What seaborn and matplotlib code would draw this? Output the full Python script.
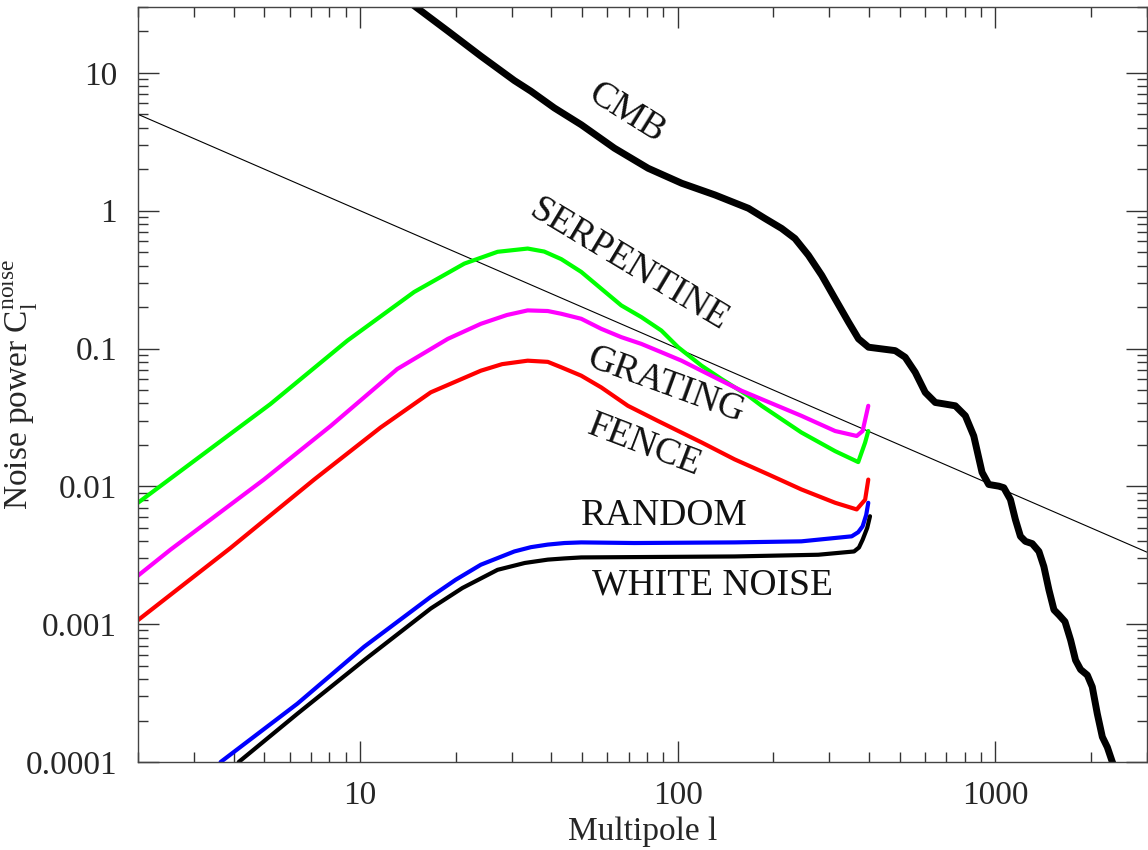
import numpy as np
import pandas as pd
import matplotlib
matplotlib.use("Agg")
import matplotlib.pyplot as plt
import seaborn as sns
from matplotlib.ticker import FixedLocator, FixedFormatter, LogLocator, NullFormatter

# multipole values / noise power
serp_l = [2, 5.22, 9.12, 14.8, 21.3, 27.1, 33.7, 38, 43, 49.7, 57.45, 66.44, 76.82, 88.82, 100.3, 118.8, 137.3, 166.8, 183.7, 245, 313, 370, 389, 398]
serp_c = [0.0076, 0.0395, 0.114, 0.257, 0.413, 0.503, 0.531, 0.505, 0.445, 0.3594, 0.2716, 0.2053, 0.169, 0.135, 0.1022, 0.0751, 0.0601, 0.0454, 0.0384, 0.0246, 0.018, 0.015, 0.0208, 0.0252]

grat_l = [2, 2.53, 4.98, 8.08, 13.1, 18.9, 24, 29, 33.7, 39, 42.96, 49.7, 57.45, 66.44, 76.82, 88.82, 102.7, 118.8, 137.3, 158.8, 183.7, 245, 313, 366, 382, 398]
grat_c = [0.00225, 0.00347, 0.0112, 0.0274, 0.071, 0.1175, 0.151, 0.175, 0.189, 0.187, 0.1787, 0.1643, 0.1389, 0.1209, 0.108, 0.094, 0.0817, 0.069, 0.0584, 0.0494, 0.0429, 0.0325, 0.0252, 0.0232, 0.0252, 0.0384]

fence_l = [2, 3.91, 7.17, 11.6, 16.7, 24, 28, 33.7, 39, 42.96, 49.7, 57.45, 69.7, 86.7, 119, 151, 193, 245, 313, 366, 389, 398]
fence_c = [0.00107, 0.00357, 0.0112, 0.0267, 0.0481, 0.069, 0.077, 0.0816, 0.08, 0.0731, 0.0635, 0.0522, 0.0384, 0.0298, 0.0208, 0.0157, 0.0122, 0.0095, 0.0076, 0.0068, 0.008, 0.0112]

rand_l = [3.64, 6.35, 10.3, 16.7, 20, 24, 30.6, 34.5, 39, 44, 49.7, 73, 151, 245, 353, 370, 382, 392, 398]
rand_c = [0.0001, 0.000265, 0.000686, 0.00158, 0.0021, 0.0027, 0.00337, 0.00362, 0.00378, 0.00388, 0.00392, 0.00388, 0.00392, 0.00399, 0.00434, 0.00465, 0.00513, 0.0062, 0.0076]

white_l = [4.15, 6.35, 10.3, 16.7, 21, 27.1, 33, 39, 44, 49.7, 151, 277, 359, 372, 382, 395, 403]
white_c = [0.0001, 0.000224, 0.000548, 0.0013, 0.00183, 0.00248, 0.00278, 0.00294, 0.003, 0.00305, 0.0031, 0.00319, 0.00337, 0.0036, 0.0041, 0.005, 0.00607]

cmb_l = [14.6, 18.9, 24, 30.6, 34.5, 40.9, 49.7, 63.2, 80.7, 103, 131, 167, 188, 212.4, 233.9, 257.8, 284, 312.8,
         344.8, 370.8, 398.7, 439.2, 483.7, 520, 559.3, 601.5, 646.9, 695.6, 747.9, 804.3, 854.9, 907.8, 952.6,
         1025, 1063, 1115, 1156, 1199, 1243, 1306, 1371, 1421, 1474, 1529, 1585, 1656, 1725, 1788, 1854, 1947,
         2018, 2093, 2171, 2251, 2334, 2380]
cmb_c = [31.4, 20.1, 13.23, 8.79, 7.36, 5.56, 4.2, 2.84, 2.03, 1.58, 1.3, 1.04, 0.879, 0.743, 0.628, 0.475, 0.3396, 0.2298,
         0.1555, 0.1175, 0.1022, 0.0993, 0.0965, 0.0864, 0.0672, 0.048, 0.0406, 0.0395, 0.0384, 0.0325, 0.0232, 0.01263, 0.01032,
         0.01003, 0.00977, 0.00803, 0.00574, 0.00434, 0.00399, 0.00384, 0.00337, 0.00262, 0.001775, 0.00127, 0.001167, 0.001043, 0.000767, 0.000548, 0.000469, 0.000427,
         0.000351, 0.000224, 0.000152, 0.000128, 0.0001, 0.00009]

ref_l = [2, 3000]
ref_c = [5.0, 0.00333]

x_ticks = [10, 100, 1000]
x_labels = ["10", "100", "1000"]
y_ticks = [0.0001, 0.001, 0.01, 0.1, 1, 10]
y_labels = ["0.0001", "0.001", "0.01", "0.1", "1", "10"]

sns.set_style("ticks")
plt.rcParams["font.family"] = ["Liberation Serif", "DejaVu Serif"]
plt.rcParams["mathtext.fontset"] = "custom"
plt.rcParams["mathtext.rm"] = "Liberation Serif"

fig = plt.figure(figsize=(11.48, 8.5), dpi=100)
ax = fig.add_axes([0.1202, 0.1035, 0.8789, 0.8882])
ax.set_xscale("log")
ax.set_yscale("log")

sns.lineplot(x=ref_l, y=ref_c, color="black", linewidth=0.8, ax=ax, sort=False, estimator=None)
sns.lineplot(x=serp_l, y=serp_c, color="#00ff00", linewidth=3, ax=ax, sort=False, estimator=None)
sns.lineplot(x=grat_l, y=grat_c, color="#ff00ff", linewidth=3, ax=ax, sort=False, estimator=None)
sns.lineplot(x=fence_l, y=fence_c, color="#ff0000", linewidth=3, ax=ax, sort=False, estimator=None)
sns.lineplot(x=rand_l, y=rand_c, color="#0000ff", linewidth=3, ax=ax, sort=False, estimator=None)
sns.lineplot(x=white_l, y=white_c, color="black", linewidth=3, ax=ax, sort=False, estimator=None)
sns.lineplot(x=cmb_l, y=cmb_c, color="black", linewidth=5, ax=ax, sort=False, estimator=None)
for ln in ax.lines:
    ln.set_solid_joinstyle("round")

ax.set_xlim(2, 3000)
ax.set_ylim(0.0001, 30)

ax.xaxis.set_major_locator(FixedLocator(x_ticks))
ax.xaxis.set_major_formatter(FixedFormatter(x_labels))
ax.yaxis.set_major_locator(FixedLocator(y_ticks))
ax.yaxis.set_major_formatter(FixedFormatter(y_labels))
ax.xaxis.set_minor_locator(LogLocator(base=10, subs=np.arange(2, 10), numticks=20))
ax.yaxis.set_minor_locator(LogLocator(base=10, subs=np.arange(2, 10), numticks=20))
ax.xaxis.set_minor_formatter(NullFormatter())
ax.yaxis.set_minor_formatter(NullFormatter())

ax.tick_params(which="both", direction="in", top=True, right=True, width=1, color="#333333")
ax.tick_params(which="major", length=15, labelsize=24)
ax.tick_params(which="minor", length=7.5)
ax.tick_params(axis="y", which="major", pad=15)
ax.tick_params(axis="x", which="major", pad=13)
for s in ax.spines.values():
    s.set_linewidth(1)
    s.set_color("#444444")

ax.set_xlabel("Multipole l", fontsize=24, labelpad=4)
ax.set_ylabel(r"Noise power C$_{\rm l}^{\rm noise}$", fontsize=24)
ax.yaxis.set_label_coords(-0.097, 0.5)

labels = [("CMB", 68.9, 5.11, -32), ("SERPENTINE", 70, 0.406, -31), ("GRATING", 92, 0.0537, -20),
          ("FENCE", 78.7, 0.0196, -21), ("RANDOM", 91, 0.00607, 0), ("WHITE NOISE", 128.5, 0.00193, 0)]
for txt, lx, cy, rot in labels:
    ax.text(lx, cy, txt, fontsize=27, rotation=rot, ha="center", va="center",
            rotation_mode="anchor", color="#111111")

fig.savefig("out.png", dpi=100)
